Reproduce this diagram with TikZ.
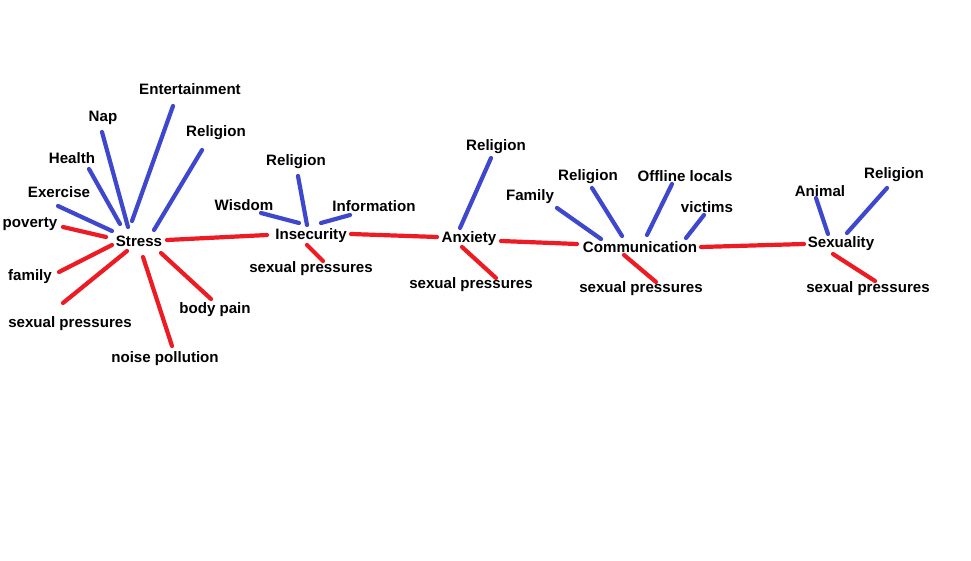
\documentclass[tikz,border=0pt]{standalone}
\usepackage{fontspec}
\setmainfont{Liberation Sans}
\usepackage{tikz}
\definecolor{mapBlue}{HTML}{3F48CC}
\definecolor{mapRed}{HTML}{ED1C24}
\tikzset{
  % word labels
  lbl/.style={font=\fontsize{15.1}{17}\selectfont\bfseries,inner sep=0pt,text=black},
  % branches
  blueline/.style={draw=mapBlue,line width=4.2pt,line cap=round},
  redline/.style={draw=mapRed,line width=4.2pt,line cap=round},
}
\begin{document}
\begin{tikzpicture}[x=1pt,y=-1pt]
  \useasboundingbox[fill=white] (0,0) rectangle (971,561);

  % Hubs
  \node[lbl] (stress) at (139,241) {Stress};
  \node[lbl] (insec) at (311,236) {Insecurity};
  \node[lbl] (anx) at (469,239) {Anxiety};
  \node[lbl] (comm) at (640,247) {Communication};
  \node[lbl] (sexu) at (841,244) {Sexuality};

  % Stress leaves
  \node[lbl] (stEnt) at (190,89) {Entertainment};
  \node[lbl] (stNap) at (103,118) {Nap};
  \node[lbl] (stRel) at (216,133) {Religion};
  \node[lbl] (stHea) at (72,158) {Health};
  \node[lbl] (stExe) at (59,192) {Exercise};
  \node[lbl] (stPov) at (30,224) {poverty};
  \node[lbl] (stFam) at (30,277) {family};
  \node[lbl] (stSex) at (70,324) {sexual pressures};
  \node[lbl] (stNoi) at (165,359) {noise pollution};
  \node[lbl] (stBod) at (215,310) {body pain};

  % Insecurity leaves
  \node[lbl] (inRel) at (296,162) {Religion};
  \node[lbl] (inWis) at (244,205) {Wisdom};
  \node[lbl] (inInf) at (374,206) {Information};
  \node[lbl] (inSex) at (311,269) {sexual pressures};

  % Anxiety leaves
  \node[lbl] (anRel) at (496,147) {Religion};
  \node[lbl] (anSex) at (471,285) {sexual pressures};

  % Communication leaves
  \node[lbl] (coFam) at (530,197) {Family};
  \node[lbl] (coRel) at (588,177) {Religion};
  \node[lbl] (coOff) at (685,176) {Offline locals};
  \node[lbl] (coVic) at (707,207) {victims};
  \node[lbl] (coSex) at (641,289) {sexual pressures};

  % Sexuality leaves
  \node[lbl] (seAni) at (820,191) {Animal};
  \node[lbl] (seRel) at (894,175) {Religion};
  \node[lbl] (seSex) at (868,289) {sexual pressures};

  % branch ends
  \coordinate (stExeA) at (112,231); \coordinate (stExeB) at (58,206);
  \coordinate (stHeaA) at (120,224); \coordinate (stHeaB) at (89,169);
  \coordinate (stNapA) at (128,227); \coordinate (stNapB) at (102,132);
  \coordinate (stEntA) at (132,221); \coordinate (stEntB) at (173,106);
  \coordinate (stRelA) at (154,230); \coordinate (stRelB) at (202,150);
  \coordinate (stPovA) at (106,237); \coordinate (stPovB) at (63,227);
  \coordinate (stFamA) at (112,245); \coordinate (stFamB) at (59,272);
  \coordinate (stSexA) at (127,251); \coordinate (stSexB) at (63,303);
  \coordinate (stNoiA) at (143,257); \coordinate (stNoiB) at (172,346);
  \coordinate (stBodA) at (161,253); \coordinate (stBodB) at (211,299);

  \coordinate (inRelA) at (307,225); \coordinate (inRelB) at (298,176);
  \coordinate (inWisA) at (299,223); \coordinate (inWisB) at (261,213);
  \coordinate (inInfA) at (321,223); \coordinate (inInfB) at (350,215);
  \coordinate (inSexA) at (307,245); \coordinate (inSexB) at (323,261);

  \coordinate (anRelA) at (460,228); \coordinate (anRelB) at (491,158);
  \coordinate (anSexA) at (462,247); \coordinate (anSexB) at (496,278);

  \coordinate (coFamA) at (601,239); \coordinate (coFamB) at (557,208);
  \coordinate (coRelA) at (622,236); \coordinate (coRelB) at (592,188);
  \coordinate (coOffA) at (647,235); \coordinate (coOffB) at (672,184);
  \coordinate (coVicA) at (686,238); \coordinate (coVicB) at (704,215);
  \coordinate (coSexA) at (624,255); \coordinate (coSexB) at (656,282);

  \coordinate (seAniA) at (828,234); \coordinate (seAniB) at (816,198);
  \coordinate (seRelA) at (847,233); \coordinate (seRelB) at (887,188);
  \coordinate (seSexA) at (833,254); \coordinate (seSexB) at (875,281);

  % chain between hubs
  \coordinate (link1A) at (167,240); \coordinate (link1B) at (267,235);
  \coordinate (link2A) at (351,234); \coordinate (link2B) at (437,237);
  \coordinate (link3A) at (501,241); \coordinate (link3B) at (577,244);
  \coordinate (link4A) at (701,247); \coordinate (link4B) at (804,244);

  \foreach \a in {stExe,stHea,stNap,stEnt,stRel,inRel,inWis,inInf,anRel,
                  coFam,coRel,coOff,coVic,seAni,seRel}
    \draw[blueline] (\a A) -- (\a B);
  \foreach \a in {stPov,stFam,stSex,stNoi,stBod,inSex,anSex,coSex,seSex,
                  link1,link2,link3,link4}
    \draw[redline] (\a A) -- (\a B);
\end{tikzpicture}
\end{document}
